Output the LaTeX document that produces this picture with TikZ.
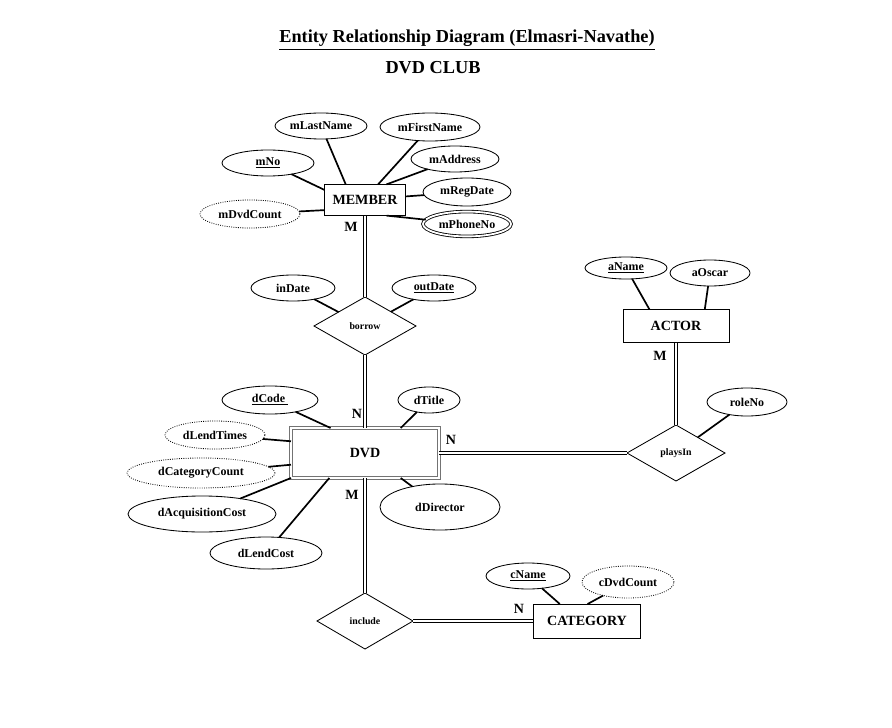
\documentclass[tikz,border=0pt]{standalone}
\usepackage{fontspec}
\setmainfont{Liberation Serif}
\usetikzlibrary{shapes.geometric,positioning}

\begin{document}
\begin{tikzpicture}[
    x=0.025cm, y=-0.025cm,
    every node/.style={inner sep=0pt, outer sep=0cm, font=\bfseries\fontsize{8.5}{10}\selectfont},
    entitet/.style={rectangle, draw=black, line width=0.7pt, font=\bfseries\fontsize{10}{12}\selectfont},
    svak/.style={entitet, draw=black!55, double=white, double distance=1.2pt, line width=0.8pt},
    attrib/.style={ellipse, draw=black, line width=0.6pt},
    avledet/.style={attrib, densely dotted},
    flerverdi/.style={attrib, double, double distance=1.3pt},
    relasjon/.style={diamond, draw=black, line width=0.6pt, font=\bfseries\fontsize{7}{8}\selectfont},
    kant/.style={line width=1.2pt},
    total/.style={line width=0.9pt, double, double distance=1.5pt},
    kard/.style={font=\bfseries\fontsize{10}{12}\selectfont}
    ]
    \useasboundingbox (0,0) rectangle (892,728);

% title
\node (tittel) at (467,40) {\fontsize{13}{15}\selectfont\underline{Entity Relationship Diagram (Elmasri-Navathe)}};
\node (klubb) at (433,68) {\fontsize{13}{15}\selectfont DVD CLUB};

% MEMBER
\node[entitet, minimum width=2.03cm, minimum height=0.78cm] (member) at (365,200) {MEMBER};
\node[attrib, minimum width=2.3cm, minimum height=0.65cm] (mlastname) at (321,126) {mLastName};
\node[attrib, minimum width=2.5cm, minimum height=0.7cm] (mfirstname) at (430,127) {mFirstName};
\node[attrib, minimum width=2.3cm, minimum height=0.65cm] (mno) at (268,163) {\underline{mNo}};
\node[attrib, minimum width=2.2cm, minimum height=0.65cm] (maddress) at (455,159) {mAddress};
\node[attrib, minimum width=2.2cm, minimum height=0.7cm] (mregdate) at (467,192) {mRegDate};
\node[avledet, minimum width=2.5cm, minimum height=0.7cm] (mdvdcount) at (250,214) {mDvdCount};
\node[flerverdi, minimum width=2.2cm, minimum height=0.62cm] (mphoneno) at (467,224) {mPhoneNo};

\draw[kant] (mlastname) -- (member.141);
\draw[kant] (mfirstname) -- (member.50);
\draw[kant] (maddress) -- (member.36);
\draw[kant] (mregdate) -- (member.5);
\draw[kant] (mphoneno) -- (member.-36);
\draw[kant] (mdvdcount) -- (member.194);
\draw[kant] (mno) -- (member.166);

% borrow
\node[relasjon, minimum width=2.55cm, minimum height=1.45cm] (borrow) at (365,326) {borrow};
\node[attrib, minimum width=2.1cm, minimum height=0.65cm] (indate) at (293,288) {inDate};
\node[attrib, minimum width=2.1cm, minimum height=0.65cm] (outdate) at (434,288) {\underline{outDate}};
\draw[kant] (indate) -- (borrow);
\draw[kant] (outdate) -- (borrow);

% DVD
\node[svak, minimum width=3.7cm, minimum height=1.25cm] (dvd) at (365,453) {DVD};
\node[attrib, minimum width=2.4cm, minimum height=0.7cm] (dcode) at (270,400) {\underline{dCode\ }};
\node[attrib, minimum width=1.55cm, minimum height=0.65cm] (dtitle) at (429,400) {dTitle};
\node[avledet, minimum width=2.5cm, minimum height=0.7cm] (dlendtimes) at (215,435) {dLendTimes};
\node[avledet, minimum width=3.7cm, minimum height=0.75cm] (dcategorycount) at (201,473) {dCategoryCount};
\node[attrib, minimum width=3.7cm, minimum height=0.9cm] (dacqcost) at (202,514) {dAcquisitionCost};
\node[attrib, minimum width=2.8cm, minimum height=0.8cm] (dlendcost) at (266,553) {dLendCost};
\node[attrib, minimum width=3.0cm, minimum height=1.15cm] (ddirector) at (440,507) {dDirector};

\draw[kant] (dcode) -- (dvd.144);
\draw[kant] (dtitle) -- (dvd.35);
\draw[kant] (dlendtimes) -- (dvd.171);
\draw[kant] (dcategorycount) -- (dvd.189);
\draw[kant] (dacqcost) -- (dvd.south west);
\draw[kant] (dlendcost) -- (dvd.215);
\draw[kant] (ddirector) -- (dvd.325);

% ACTOR og playsIn
\node[entitet, minimum width=2.65cm, minimum height=0.83cm] (actor) at (676,326) {ACTOR};
\node[attrib, minimum width=2.05cm, minimum height=0.55cm] (aname) at (626,268) {\underline{aName}};
\node[attrib, minimum width=2.0cm, minimum height=0.65cm] (aoscar) at (710,273) {aOscar};
\node[relasjon, minimum width=2.45cm, minimum height=1.4cm] (playsin) at (676,453) {playsIn};
\node[attrib, minimum width=2.0cm, minimum height=0.7cm] (roleno) at (747,402) {roleNo};

\draw[kant] (aname) -- (actor.148);
\draw[kant] (aoscar) -- (actor.30);
\draw[kant] (roleno) -- (playsin);

% include og CATEGORY
\node[relasjon, minimum width=2.4cm, minimum height=1.4cm] (include) at (365,621) {include};
\node[entitet, minimum width=2.68cm, minimum height=0.85cm] (category) at (587,621) {CATEGORY};
\node[attrib, minimum width=2.1cm, minimum height=0.65cm] (cname) at (528,576) {\underline{cName}};
\node[avledet, minimum width=2.3cm, minimum height=0.8cm] (cdvdcount) at (628,582) {cDvdCount};

\draw[kant] (cname) -- (category.148);
\draw[kant] (cdvdcount) -- (category.88);

% relasjoner
\draw[total] (member.south) -- (borrow.north);
\draw[total] (borrow.south) -- (dvd.north);
\draw[total] (dvd.east) -- (playsin.west);
\draw[total] (actor.south) -- (playsin.north);
\draw[total] (dvd.south) -- (include.north);
\draw[total] (include.east) -- (category.west);

% kardinalitet
\node[kard] (k1) at (351,227) {M};
\node[kard] (k2) at (357,414) {N};
\node[kard] (k3) at (451,440) {N};
\node[kard] (k4) at (660,356) {M};
\node[kard] (k5) at (352,495) {M};
\node[kard] (k6) at (519,609) {N};
\end{tikzpicture}
\end{document}
